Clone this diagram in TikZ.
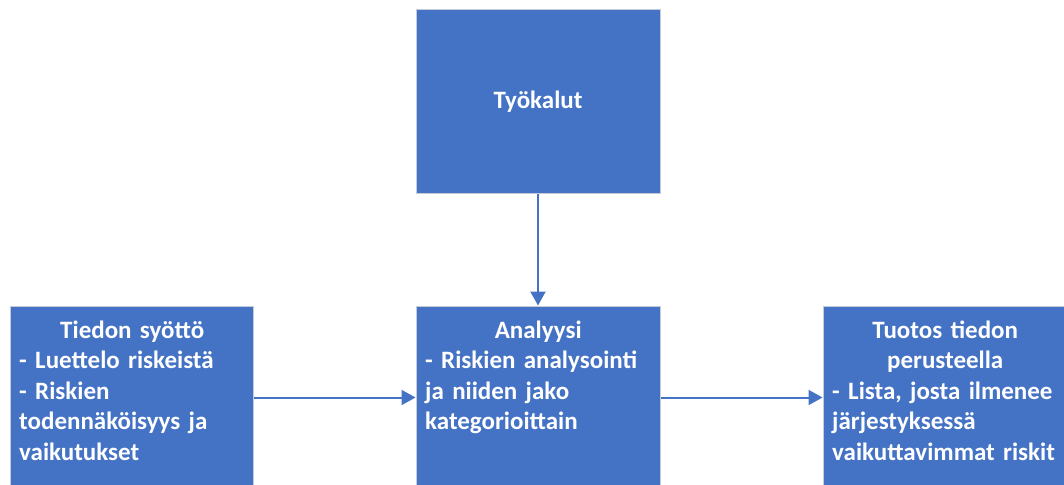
\documentclass[tikz,border=0pt]{standalone}
\usepackage{fontspec}
\setmainfont{Carlito}
\usetikzlibrary{arrows.meta}
\definecolor{boxblue}{HTML}{4472C4}
\definecolor{boxedge}{HTML}{C5CCD8}
\tikzset{
  bluebox/.style={rectangle, fill=boxblue, draw=boxedge, line width=1pt, inner sep=0pt},
  boxtext/.style={anchor=north west, inner sep=0pt, text width=226pt, text=white,
    font=\fontsize{25}{30.5}\selectfont\bfseries},
  conn/.style={draw=boxblue, line width=2pt, -{Triangle[length=14pt,width=15pt]}}
}
\begin{document}
\begin{tikzpicture}[x=1pt,y=-1pt]
\useasboundingbox (0,0) rectangle (1064,484);
\clip (0,0) rectangle (1064,484);
% boxes
\node[bluebox, minimum width=244pt, minimum height=183pt] (tools) at (538,101.5) {};
\node[bluebox, minimum width=243pt, minimum height=183pt] (input) at (131.5,397.5) {};
\node[bluebox, minimum width=244pt, minimum height=183pt] (analysis) at (538,397.5) {};
\node[bluebox, minimum width=244pt, minimum height=183pt] (output) at (945,397.5) {};
% texts
\node[text=white, font=\fontsize{25}{30.5}\selectfont\bfseries] (toolstext) at (tools.center) {Työkalut};
\node[boxtext] (inputtext) at (19,316.65) {\strut{\centering Tiedon syöttö\par}\raggedright
  - Luettelo riskeistä\\- Riskien\\todennäköisyys ja\\vaikutukset};
\node[boxtext] (analysistext) at (425,316.65) {\strut{\centering Analyysi\par}\raggedright
  - Riskien analysointi\\ja niiden jako\\kategorioittain};
\node[boxtext] (outputtext) at (832,316.65) {\strut{\centering Tuotos tiedon\\perusteella\par}\raggedright
  - Lista, josta ilmenee\\järjestyksessä\\vaikuttavimmat riskit};
% connectors
\draw[conn] (tools.south) -- (analysis.north);
\draw[conn] (input.east) -- (analysis.west);
\draw[conn] (analysis.east) -- (output.west);
\end{tikzpicture}
\end{document}
